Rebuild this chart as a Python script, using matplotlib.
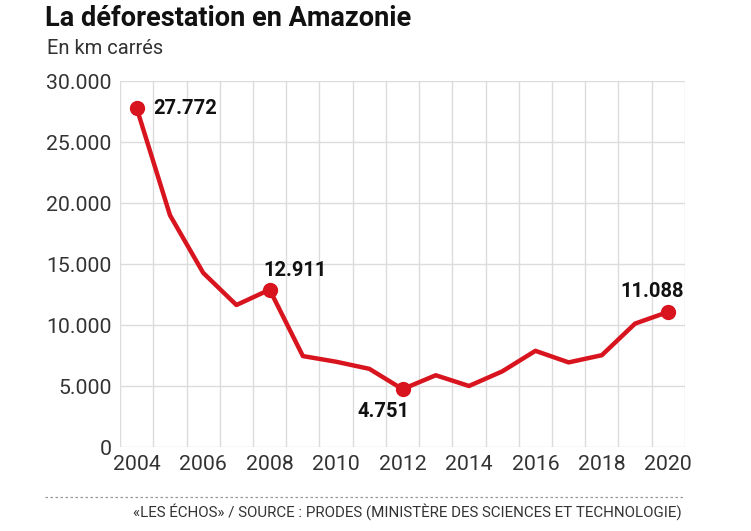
import matplotlib.pyplot as plt
from matplotlib.ticker import FuncFormatter, MultipleLocator

# Déforestation annuelle (PRODES), km²
YEARS = list(range(2004, 2021))
AREA = [27772, 19014, 14286, 11651, 12911, 7464, 7000, 6418, 4751,
        5891, 5012, 6207, 7893, 6947, 7536, 10129, 11088]

# points mis en avant -> décalage de l'étiquette (en points)
HIGHLIGHT = {2004: (12, 0), 2008: (18, 14), 2012: (-14, -16), 2020: (-12, 15)}

RED = "#d8141e"
plt.rcParams['font.family'] = ['Roboto', 'DejaVu Sans']


def fmt_thousands(v, _pos):
    return f"{int(v):,}".replace(",", ".")


fig = plt.figure(figsize=(7.51, 5.31), dpi=100)
ax = fig.add_axes([0.160, 0.158, 0.752, 0.689])

ax.plot(YEARS, AREA, color=RED, linewidth=3.2, solid_joinstyle='round',
        solid_capstyle='round', zorder=3)

hx = [y for y in YEARS if y in HIGHLIGHT]
hy = [AREA[YEARS.index(y)] for y in hx]
ax.plot(hx, hy, 'o', color=RED, markersize=10, zorder=4)

for x, y in zip(hx, hy):
    dx, dy = HIGHLIGHT[x]
    ha = 'left' if dy == 0 else 'center'
    ax.annotate(fmt_thousands(y, None), (x, y), xytext=(dx, dy),
                textcoords='offset points', ha=ha, va='center',
                fontsize=14.5, fontweight='bold', color='#111111')

ax.set_xlim(2003.5, 2020.5)
ax.set_ylim(0, 30000)
ax.set_xticks(range(2004, 2021, 2))
ax.set_xticks([y - 0.5 for y in YEARS] + [2020.5], minor=True)
ax.yaxis.set_major_locator(MultipleLocator(5000))
ax.yaxis.set_major_formatter(FuncFormatter(fmt_thousands))

ax.grid(which='minor', axis='x', color='#dcdcdc', linewidth=1)
ax.grid(which='major', axis='y', color='#dcdcdc', linewidth=1)
ax.set_axisbelow(True)
for s in ax.spines.values():
    s.set_visible(False)
ax.tick_params(which='both', length=0)
ax.tick_params(axis='y', labelsize=15.3, labelcolor='#333333', pad=6)
ax.tick_params(axis='x', labelsize=15.3, labelcolor='#333333', pad=6)

fig.text(0.060, 0.966, "La déforestation en Amazonie", fontsize=19.5,
         fontweight='bold', ha='left', va='center', color='#111111')
fig.text(0.062, 0.908, "En km carrés", fontsize=14.5, ha='left', va='center',
         color='#333333')

fig.add_artist(plt.Line2D([0.060, 0.912], [0.064, 0.064], transform=fig.transFigure,
                          color='#999999', linewidth=0.9, linestyle=(0, (2, 2))))
fig.text(0.908, 0.036, "«LES ÉCHOS» / SOURCE : PRODES (MINISTÈRE DES SCIENCES ET TECHNOLOGIE)",
         fontsize=10.9, ha='right', va='center', color='#333333')

fig.savefig("out.png", dpi=100)
